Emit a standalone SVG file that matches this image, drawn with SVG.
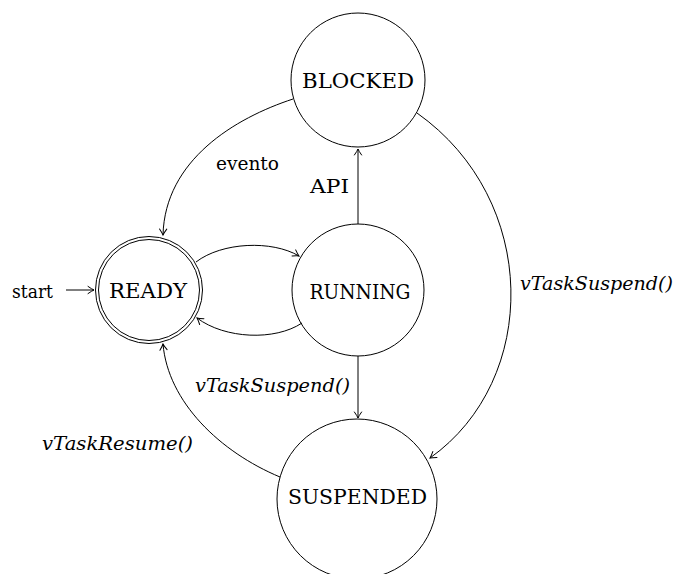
<svg xmlns="http://www.w3.org/2000/svg" width="676" height="574" viewBox="0 0 676 574">
  <style>
    .state { fill: none; stroke: #000; stroke-width: 1; }
    .edge { fill: none; stroke: #000; stroke-width: 1; marker-end: url(#tip); }
    .name { font-family: "DejaVu Serif", "Liberation Serif", serif; font-size: 20.5px; fill: #000; text-anchor: middle; }
    .lbl { font-family: "DejaVu Serif", "Liberation Serif", serif; font-size: 18.5px; fill: #000; }
    .fn { font-style: italic; }
  </style>
  <defs>
    <marker id="tip" viewBox="-8 -5 10 10" refX="0" refY="0" markerWidth="10" markerHeight="10" markerUnits="userSpaceOnUse" orient="auto">
      <path d="M -6 -3.6 Q -2 -0.8 0 0 Q -2 0.8 -6 3.6" fill="none" stroke="#000" stroke-width="1" stroke-linecap="round"/>
    </marker>
  </defs>
  <rect width="676" height="574" fill="#fff"/>

  <g id="blocked">
    <circle class="state" cx="358" cy="80" r="67"/>
    <text class="name" x="358" y="88" textLength="112" lengthAdjust="spacingAndGlyphs">BLOCKED</text>
  </g>
  <g id="ready">
    <circle class="state" cx="149" cy="290" r="53.5"/>
    <circle class="state" cx="149" cy="290" r="50.5"/>
    <text class="name" x="148" y="298" textLength="78" lengthAdjust="spacingAndGlyphs">READY</text>
  </g>
  <g id="running">
    <circle class="state" cx="358" cy="290" r="66"/>
    <text class="name" x="360" y="299" textLength="101" lengthAdjust="spacingAndGlyphs">RUNNING</text>
  </g>
  <g id="suspended">
    <circle class="state" cx="357" cy="499" r="80"/>
    <text class="name" x="357.5" y="504" textLength="139" lengthAdjust="spacingAndGlyphs">SUSPENDED</text>
  </g>

  <g id="connectors">
    <!-- initial state -->
    <line class="edge" x1="66" y1="290" x2="94" y2="290"/>
    <text class="lbl" x="12" y="298" textLength="41" lengthAdjust="spacingAndGlyphs">start</text>
    <!-- BLOCKED to READY -->
    <path class="edge" d="M 293 99 C 235 118, 165 160, 163 235"/>
    <text class="lbl" x="216" y="170" textLength="63" lengthAdjust="spacingAndGlyphs">evento</text>
    <!-- READY to RUNNING -->
    <path class="edge" d="M 196 262 C 222 242, 272 240, 299 256"/>
    <!-- RUNNING to READY -->
    <path class="edge" d="M 302 323 C 275 341, 225 339, 197 318"/>
    <!-- RUNNING to BLOCKED -->
    <line class="edge" x1="358" y1="224" x2="358" y2="149"/>
    <text class="lbl" x="310" y="193" textLength="39" lengthAdjust="spacingAndGlyphs">API</text>
    <!-- RUNNING to SUSPENDED -->
    <line class="edge" x1="358" y1="356" x2="358" y2="418"/>
    <text class="lbl fn" x="195" y="392" textLength="155" lengthAdjust="spacingAndGlyphs">vTaskSuspend()</text>
    <!-- BLOCKED to SUSPENDED -->
    <path class="edge" d="M 417 113 C 540 200, 540 380, 430 458"/>
    <text class="lbl fn" x="520" y="290" textLength="153" lengthAdjust="spacingAndGlyphs">vTaskSuspend()</text>
    <!-- SUSPENDED to READY -->
    <path class="edge" d="M 280 477 C 220 452, 168 402, 163 344"/>
    <text class="lbl fn" x="42" y="450" textLength="151" lengthAdjust="spacingAndGlyphs">vTaskResume()</text>
  </g>
</svg>
